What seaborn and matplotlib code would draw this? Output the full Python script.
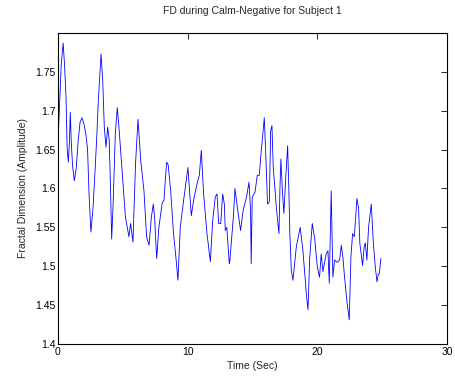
import matplotlib
matplotlib.use("Agg")
import matplotlib.pyplot as plt
import seaborn as sns
import pandas as pd

time_sec = [0.0, 0.1, 0.25, 0.4, 0.5, 0.62, 0.7, 0.8, 0.88, 0.95, 1.02, 1.12, 1.26, 1.4, 1.55,
            1.7, 1.85, 2.0, 2.15, 2.28, 2.4, 2.54, 2.7, 2.85, 3.0, 3.1, 3.32, 3.45, 3.57, 3.7,
            3.83, 3.95, 4.05, 4.14, 4.25, 4.42, 4.57, 4.7, 4.96, 5.2, 5.47, 5.6, 5.78, 5.98, 6.17,
            6.38, 6.63, 6.83, 7.02, 7.2, 7.35, 7.45, 7.61, 7.78, 8.04, 8.17, 8.38, 8.5, 8.69, 8.89,
            9.1, 9.25, 9.43, 9.69, 10.02, 10.28, 10.46, 10.72, 10.9, 11.05, 11.23, 11.49, 11.75, 11.93, 12.13,
            12.26, 12.39, 12.55, 12.7, 12.83, 12.9, 13.02, 13.21, 13.26, 13.52, 13.65, 13.83, 14.08, 14.28, 14.54,
            14.73, 14.85, 14.9, 14.98, 15.19, 15.37, 15.52, 15.7, 15.91, 16.04, 16.16, 16.3, 16.4, 16.5, 16.6,
            16.86, 17.04, 17.12, 17.19, 17.32, 17.42, 17.58, 17.71, 17.8, 17.88, 17.99, 18.12, 18.38, 18.68, 18.89,
            19.15, 19.28, 19.41, 19.61, 19.8, 20.0, 20.17, 20.3, 20.43, 20.56, 20.69, 20.82, 20.92, 21.07, 21.2,
            21.33, 21.54, 21.72, 21.85, 21.98, 22.1, 22.3, 22.46, 22.59, 22.72, 22.85, 22.98, 23.05, 23.18, 23.28,
            23.49, 23.61, 23.7, 23.82, 23.95, 24.16, 24.31, 24.47, 24.6, 24.7, 24.78, 24.9]
fd_value = [1.66, 1.70, 1.76, 1.787, 1.76, 1.717, 1.653, 1.634, 1.66, 1.698, 1.661, 1.63, 1.61, 1.625, 1.66,
            1.685, 1.691, 1.683, 1.67, 1.65, 1.59, 1.544, 1.575, 1.62, 1.67, 1.71, 1.773, 1.738, 1.679, 1.653,
            1.679, 1.662, 1.60, 1.535, 1.58, 1.67, 1.704, 1.679, 1.619, 1.563, 1.538, 1.555, 1.531, 1.632, 1.689,
            1.636, 1.597, 1.538, 1.527, 1.563, 1.58, 1.563, 1.51, 1.55, 1.582, 1.585, 1.634, 1.63, 1.597, 1.546,
            1.51, 1.482, 1.55, 1.585, 1.627, 1.565, 1.585, 1.606, 1.617, 1.649, 1.593, 1.542, 1.506, 1.559, 1.589,
            1.593, 1.555, 1.555, 1.593, 1.58, 1.546, 1.55, 1.503, 1.508, 1.563, 1.60, 1.576, 1.546, 1.572, 1.589,
            1.608, 1.572, 1.503, 1.589, 1.595, 1.617, 1.617, 1.653, 1.691, 1.636, 1.58, 1.583, 1.674, 1.681, 1.627,
            1.572, 1.542, 1.602, 1.638, 1.593, 1.568, 1.619, 1.655, 1.60, 1.542, 1.495, 1.482, 1.525, 1.55, 1.52,
            1.465, 1.444, 1.51, 1.555, 1.535, 1.499, 1.486, 1.516, 1.493, 1.505, 1.516, 1.52, 1.478, 1.597, 1.486,
            1.508, 1.505, 1.508, 1.527, 1.51, 1.486, 1.452, 1.431, 1.512, 1.542, 1.538, 1.568, 1.587, 1.575, 1.529,
            1.501, 1.525, 1.53, 1.508, 1.55, 1.58, 1.533, 1.499, 1.48, 1.49, 1.49, 1.51]

x_ticks = [0, 10, 20, 30]
y_ticks = [1.4, 1.45, 1.5, 1.55, 1.6, 1.65, 1.7, 1.75]
y_tick_labels = ["1.4", "1.45", "1.5", "1.55", "1.6", "1.65", "1.7", "1.75"]

sns.set_style("white")
plt.rcParams['font.family'] = ['Liberation Sans', 'DejaVu Sans']

df = pd.DataFrame({"Time": time_sec, "FD": fd_value})

fig = plt.figure(figsize=(4.55, 3.76), dpi=100)
ax = fig.add_axes([58 / 455, 32 / 376, 389 / 455, 311 / 376])
sns.lineplot(data=df, x="Time", y="FD", ax=ax, color=(0, 0, 1), linewidth=0.6, estimator=None, sort=False)

ax.set_xlim(0, 30)
ax.set_ylim(1.4, 1.8)
ax.set_xticks(x_ticks)
ax.set_xticklabels([str(t) for t in x_ticks])
ax.set_yticks(y_ticks)
ax.set_yticklabels(y_tick_labels)
ax.tick_params(direction="in", top=True, right=True, length=4, width=0.6,
               labelsize=7.5, pad=2, colors="black")
for s in ax.spines.values():
    s.set_visible(True)
    s.set_color("black")
    s.set_linewidth(0.8)
ax.set_xlabel("Time (Sec)", fontsize=7.5, labelpad=3)
ax.set_ylabel("Fractal Dimension (Amplitude)", fontsize=7.5, labelpad=5)
ax.set_title("FD during Calm-Negative for Subject 1", fontsize=7.5, pad=14)

fig.savefig("out.png", dpi=100, facecolor="white")
